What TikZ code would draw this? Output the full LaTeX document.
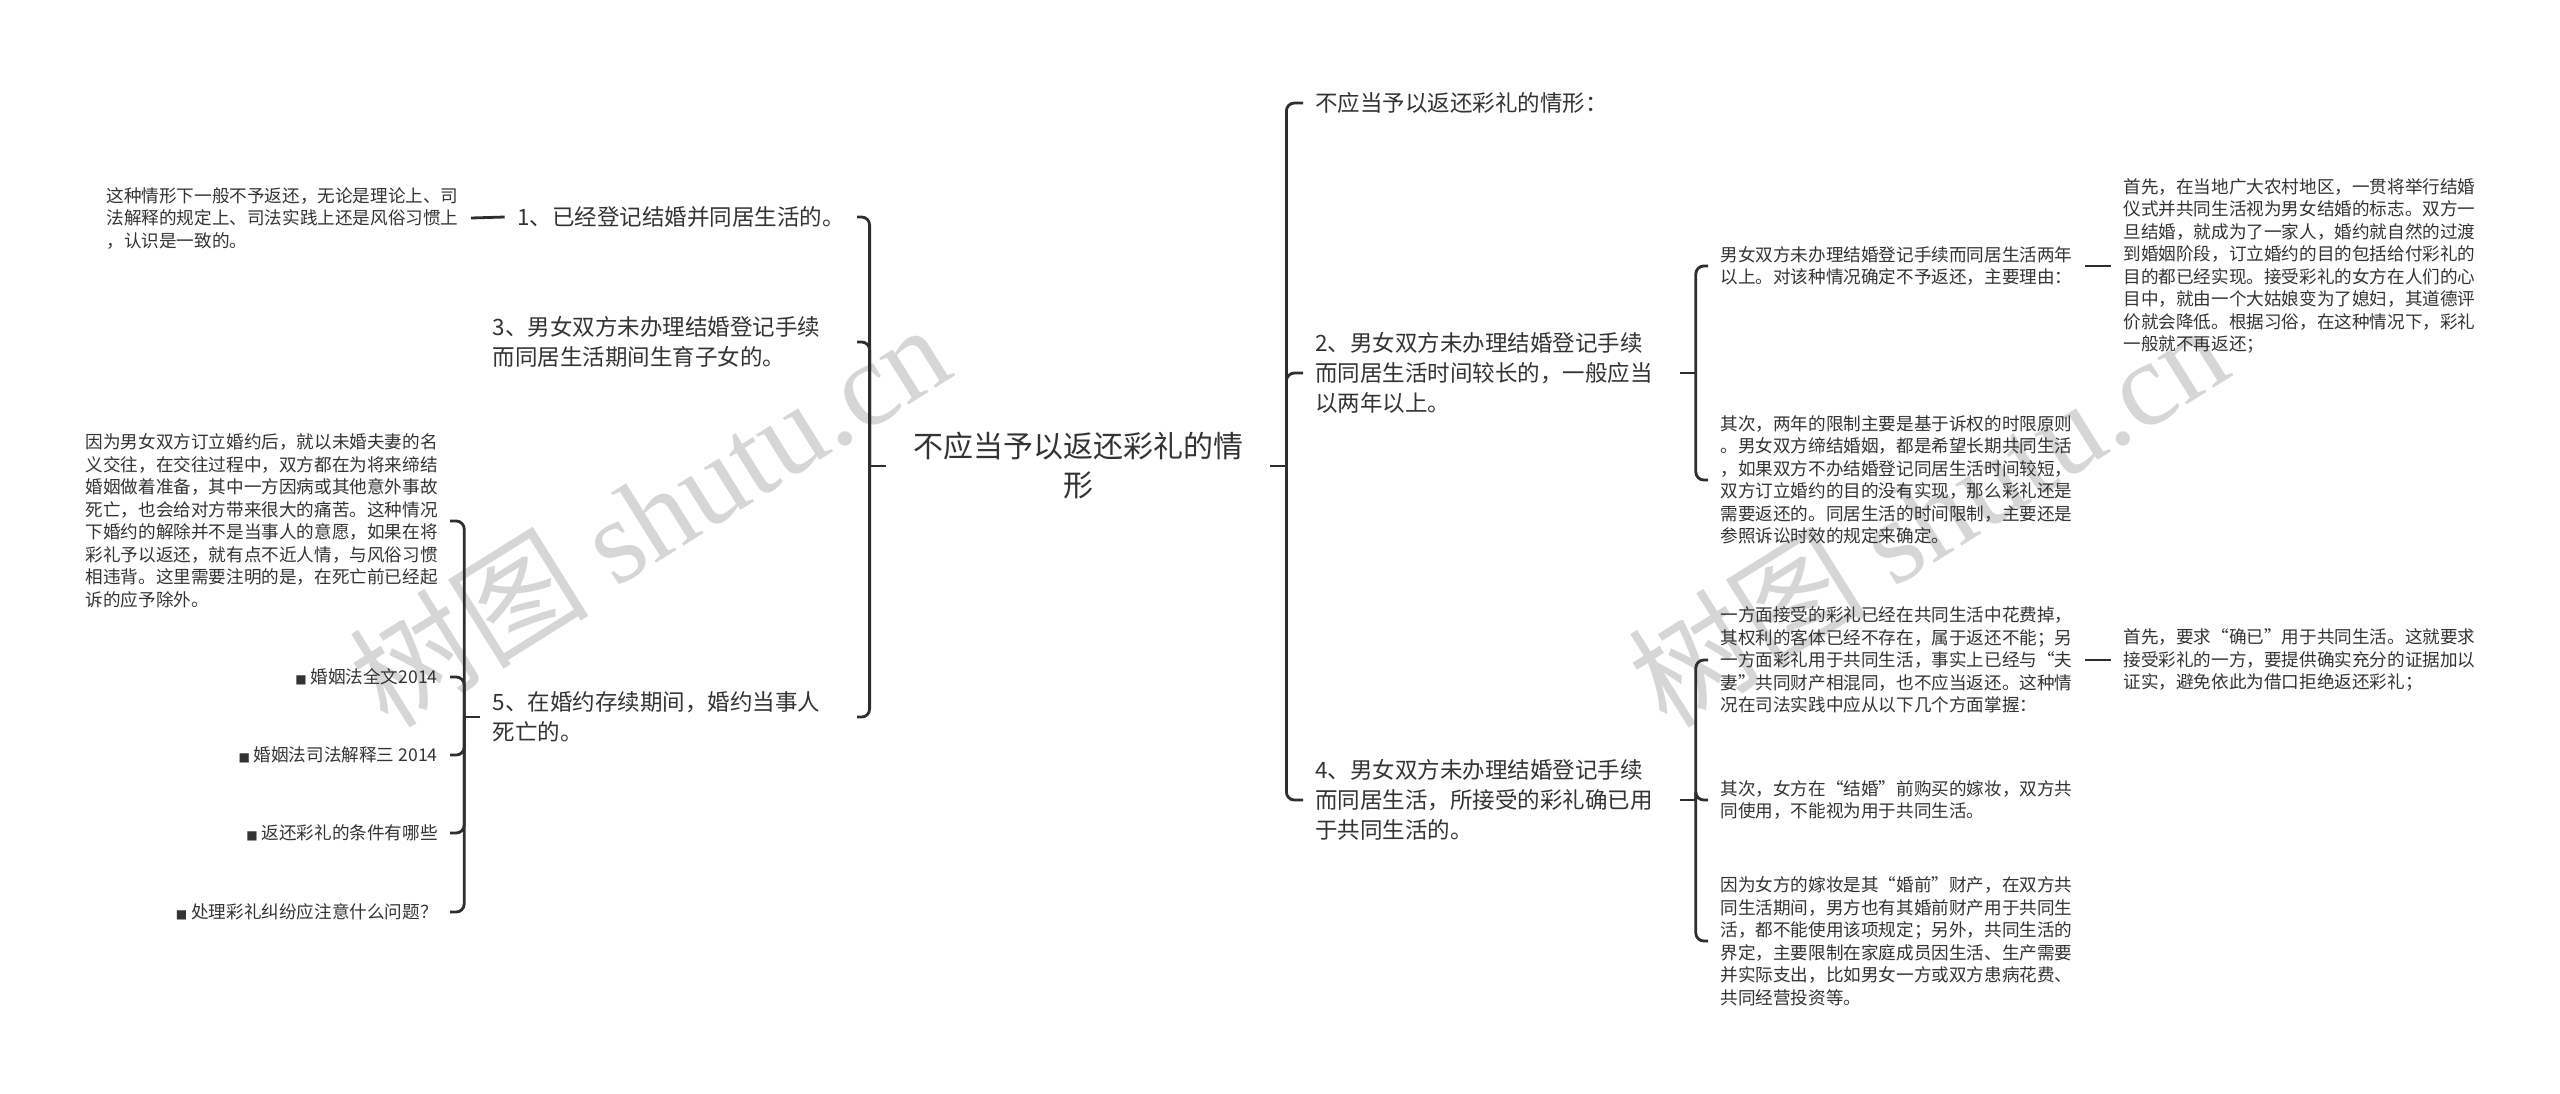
\documentclass[tikz,border=0pt]{standalone}
\usepackage{fontspec}
\setmainfont{Noto Sans CJK SC}
\newfontfamily\wmfont{Liberation Serif}
\newfontfamily\symfont{DejaVu Sans}
\definecolor{inkline}{HTML}{2E2E2E}
\definecolor{inktext}{HTML}{333333}
\definecolor{wmgray}{HTML}{D6D6D6}
\newcommand{\sqbullet}{{\symfont\fontsize{6pt}{6pt}\selectfont ■}\ }

\begin{document}
\begin{tikzpicture}[x=0.5pt, y=-0.5pt, every node/.style={text=inktext, inner sep=6pt}, rootbox/.style={align=center, minimum width=192pt, font=\fontsize{15pt}{19.5pt}\selectfont}, topic/.style={align=left, font=\fontsize{11.25pt}{15pt}\selectfont}, wide/.style={text width=176pt}, detail/.style={align=left, font=\fontsize{8.8pt}{11.25pt}\selectfont}, wmark/.style={text=wmgray, rotate=32, font=\fontsize{60pt}{60pt}\selectfont}, link/.style={draw=inkline, line width=1.4pt, rounded corners=4pt}]
\useasboundingbox (0,0) rectangle (2560,1093);
\node[wmark] (wmleft) at (649,514) {树图 {\wmfont shutu.cn}};
\node[wmark] (wmright) at (1927,514) {树图 {\wmfont shutu.cn}};
\node[rootbox] (root) at (1078,466) {不应当予以返还彩礼的情\\形};
\node[topic, anchor=west] (r0) at (1303,103) {不应当予以返还彩礼的情形：};
\node[topic, wide, anchor=west] (r2) at (1303,373) {2、男女双方未办理结婚登记手续\\而同居生活时间较长的，一般应当\\以两年以上。};
\node[topic, wide, anchor=west] (r4) at (1303,800) {4、男女双方未办理结婚登记手续\\而同居生活，所接受的彩礼确已用\\于共同生活的。};
\node[detail, anchor=west] (r2a) at (1708,266) {男女双方未办理结婚登记手续而同居生活两年\\以上。对该种情况确定不予返还，主要理由：};
\node[detail, anchor=west] (r2b) at (1708,480) {其次，两年的限制主要是基于诉权的时限原则\\。男女双方缔结婚姻，都是希望长期共同生活\\，如果双方不办结婚登记同居生活时间较短，\\双方订立婚约的目的没有实现，那么彩礼还是\\需要返还的。同居生活的时间限制，主要还是\\参照诉讼时效的规定来确定。};
\node[detail, anchor=west] (r2a1) at (2111,266) {首先，在当地广大农村地区，一贯将举行结婚\\仪式并共同生活视为男女结婚的标志。双方一\\旦结婚，就成为了一家人，婚约就自然的过渡\\到婚姻阶段，订立婚约的目的包括给付彩礼的\\目的都已经实现。接受彩礼的女方在人们的心\\目中，就由一个大姑娘变为了媳妇，其道德评\\价就会降低。根据习俗，在这种情况下，彩礼\\一般就不再返还；};
\node[detail, anchor=west] (r4a) at (1708,660) {一方面接受的彩礼已经在共同生活中花费掉，\\其权利的客体已经不存在，属于返还不能；另\\一方面彩礼用于共同生活，事实上已经与“夫\\妻”共同财产相混同，也不应当返还。这种情\\况在司法实践中应从以下几个方面掌握：};
\node[detail, anchor=west] (r4b) at (1708,800) {其次，女方在“结婚”前购买的嫁妆，双方共\\同使用，不能视为用于共同生活。};
\node[detail, anchor=west] (r4c) at (1708,941) {因为女方的嫁妆是其“婚前”财产，在双方共\\同生活期间，男方也有其婚前财产用于共同生\\活，都不能使用该项规定；另外，共同生活的\\界定，主要限制在家庭成员因生活、生产需要\\并实际支出，比如男女一方或双方患病花费、\\共同经营投资等。};
\node[detail, anchor=west] (r4a1) at (2111,660) {首先，要求“确已”用于共同生活。这就要求\\接受彩礼的一方，要提供确实充分的证据加以\\证实，避免依此为借口拒绝返还彩礼；};
\node[topic, anchor=east] (l1) at (857,217) {1、已经登记结婚并同居生活的。};
\node[topic, wide, anchor=east] (l3) at (857,342) {3、男女双方未办理结婚登记手续\\而同居生活期间生育子女的。};
\node[topic, wide, anchor=east] (l5) at (857,717) {5、在婚约存续期间，婚约当事人\\死亡的。};
\node[detail, anchor=east] (d1) at (471,218) {这种情形下一般不予返还，无论是理论上、司\\法解释的规定上、司法实践上还是风俗习惯上\\，认识是一致的。};
\node[detail, anchor=east] (c1) at (450,521) {因为男女双方订立婚约后，就以未婚夫妻的名\\义交往，在交往过程中，双方都在为将来缔结\\婚姻做着准备，其中一方因病或其他意外事故\\死亡，也会给对方带来很大的痛苦。这种情况\\下婚约的解除并不是当事人的意愿，如果在将\\彩礼予以返还，就有点不近人情，与风俗习惯\\相违背。这里需要注明的是，在死亡前已经起\\诉的应予除外。};
\node[detail, anchor=east] (c2) at (450,677) {\sqbullet 婚姻法全文2014};
\node[detail, anchor=east] (c3) at (450,755) {\sqbullet 婚姻法司法解释三 2014};
\node[detail, anchor=east] (c4) at (450,833) {\sqbullet 返还彩礼的条件有哪些};
\node[detail, anchor=east] (c5) at (450,912) {\sqbullet 处理彩礼纠纷应注意什么问题？};
\coordinate (rt) at ([xshift=8pt]root.east);
\coordinate (lt) at ([xshift=-8pt]root.west);
\coordinate (r2t) at ([xshift=8pt]r2.east);
\coordinate (r4t) at ([xshift=8pt]r4.east);
\coordinate (l5t) at ([xshift=-8pt]l5.west);
\draw[link] (root.east) -- (rt);
\draw[link] (root.west) -- (lt);
\foreach \n in {r0,r2,r4} \draw[link] (rt) |- (\n.west);
\foreach \n in {l1,l3,l5} \draw[link] (lt) |- (\n.east);
\draw[link] (r2.east) -- (r2t);
\foreach \n in {r2a,r2b} \draw[link] (r2t) |- (\n.west);
\draw[link] (r4.east) -- (r4t);
\foreach \n in {r4a,r4b,r4c} \draw[link] (r4t) |- (\n.west);
\draw[link] (r2a.east) -- (r2a1.west);
\draw[link] (r4a.east) -- (r4a1.west);
\draw[link] (l1.west) -- (d1.east);
\draw[link] (l5.west) -- (l5t);
\foreach \n in {c1,c2,c3,c4,c5} \draw[link] (l5t) |- (\n.east);
\end{tikzpicture}
\end{document}
